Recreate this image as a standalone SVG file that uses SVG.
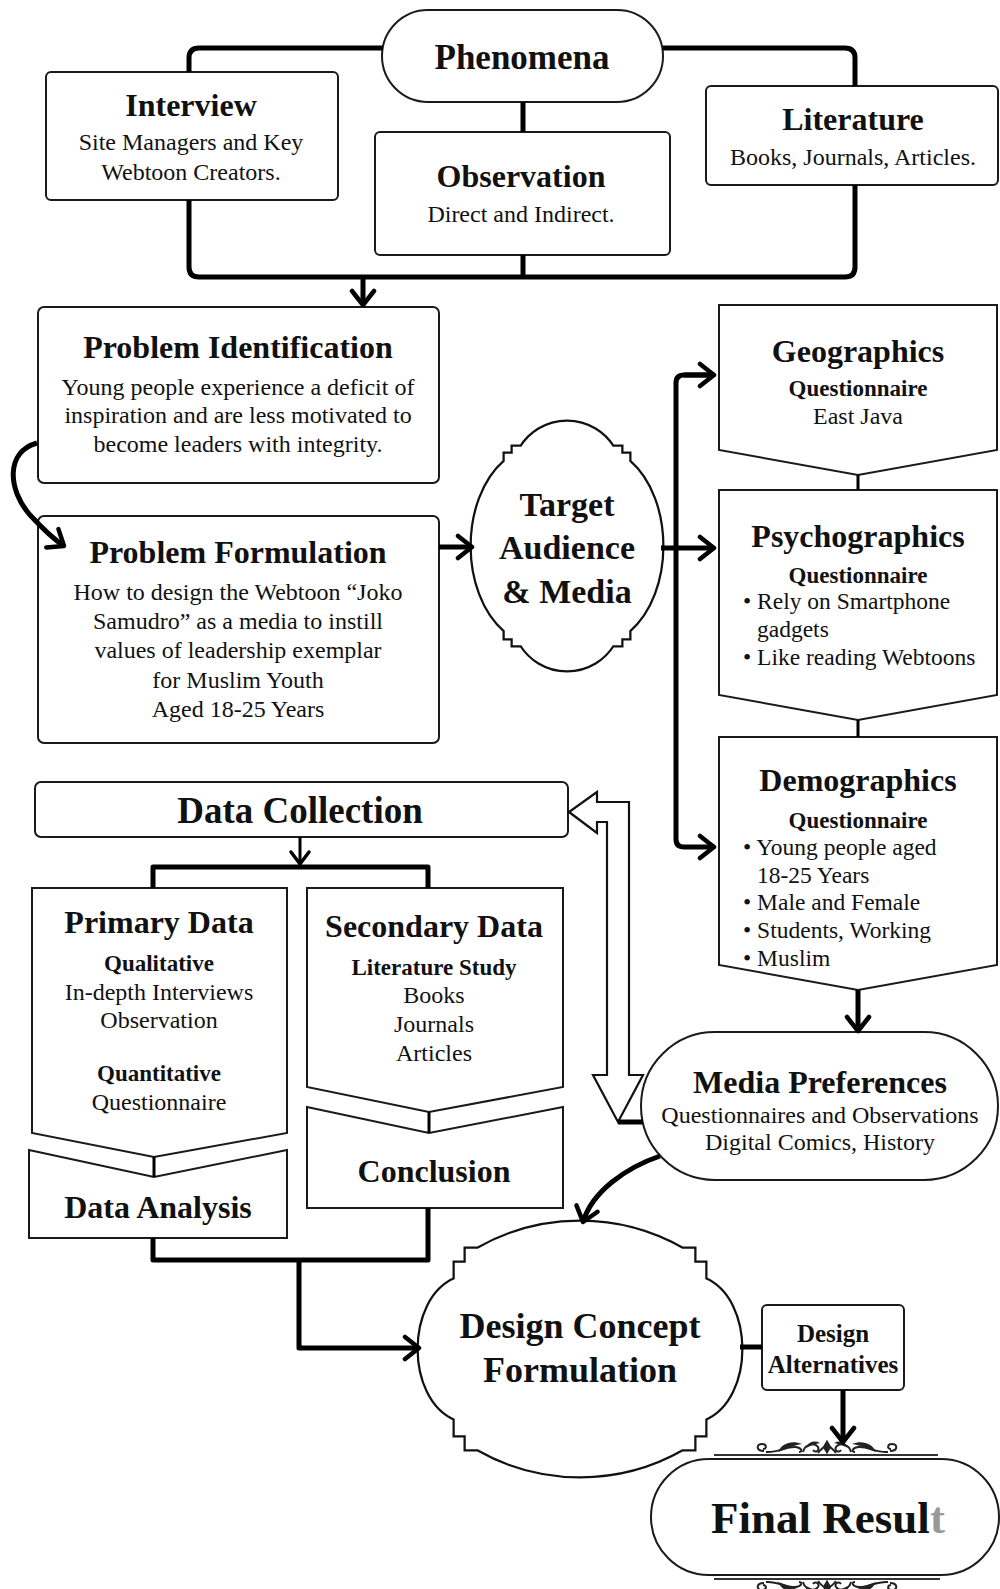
<svg xmlns="http://www.w3.org/2000/svg" width="1000" height="1589" viewBox="0 0 1000 1589">
<defs>
<style>
.box{fill:#fff;stroke:#1a1a1a;stroke-width:2}
.conn{fill:none;stroke:#000;stroke-width:5;stroke-linejoin:round}
.thin{fill:none;stroke:#000;stroke-width:3}
text{font-family:"Liberation Serif","Times New Roman",serif;fill:#111}
.t{font-weight:bold;font-size:32px;text-anchor:middle}
.s{font-weight:bold;font-size:23px;text-anchor:middle}
.b{font-size:24px;text-anchor:middle}
.bl{font-size:23.5px}
.orn{fill:none;stroke:#222;stroke-width:2}
.ornf{fill:#222;stroke:none}
.dbl1{fill:#fff;stroke:#111;stroke-width:7}
.dbl2{fill:#fff;stroke:#fff;stroke-width:2.5}
</style>
<marker id="ah" markerUnits="userSpaceOnUse" markerWidth="26" markerHeight="28" viewBox="0 0 26 28" refX="20" refY="14" orient="auto">
<path d="M6,3 L20,14 L6,25" fill="none" stroke="#000" stroke-width="4.5" stroke-linecap="round" stroke-linejoin="round"/>
</marker>
<marker id="ahs" markerUnits="userSpaceOnUse" markerWidth="22" markerHeight="24" viewBox="0 0 22 24" refX="17" refY="12" orient="auto">
<path d="M5,3 L17,12 L5,21" fill="none" stroke="#000" stroke-width="3.5" stroke-linecap="round" stroke-linejoin="round"/>
</marker>
<path id="tashape" d="M522,448 A53,53 0 0 1 612,448 H620 V455 H628 V462 C672,500 672,592 628,630 V637 H620 V644 H612 A53,53 0 0 1 522,644 H514 V637 H506 V630 C462,592 462,500 506,462 V455 H514 V448 Z"/>
<path id="dcshape" d="M478,1250 A206,206 0 0 1 682,1250 H693 V1264 H704 V1280 C752,1300 752,1398 704,1418 V1434 H693 V1448 H682 A206,206 0 0 1 478,1448 H467 V1434 H456 V1418 C408,1398 408,1300 456,1280 V1264 H467 V1250 Z"/>
<g id="orn">
<path class="orn" d="M764,1451 C756,1451 756,1444 762,1444 C767,1444 767,1449 763,1449"/>
<path class="orn" d="M766,1452 C778,1453 786,1446 796,1447 C802,1448 803,1452 799,1452"/>
<path class="ornf" d="M778,1452 C782,1443 792,1440 802,1444 C794,1445 787,1449 778,1452 Z"/>
<path class="orn" d="M803,1452 C805,1444 814,1442 818,1447 C820,1451 815,1453 813,1450"/>
<path class="ornf" d="M806,1448 C808,1442 814,1440 820,1443 C814,1444 810,1446 806,1448 Z"/>
<path class="orn" d="M818,1453 C822,1448 824,1446 827,1446"/>
<path class="ornf" d="M827,1440 L831,1447 L827,1454 L823,1447 Z"/>
</g>
</defs>

<g id="phenomena">
<rect class="box" x="382" y="10" width="281" height="92" rx="46"/>
<text class="t" x="522" y="69" style="font-size:35px">Phenomena</text>
</g>

<g id="interview">
<rect class="box" x="46" y="72" width="292" height="128" rx="5"/>
<text class="t" x="191" y="116">Interview</text>
<text class="b" x="191" y="150">Site Managers and Key</text>
<text class="b" x="191" y="180">Webtoon Creators.</text>
</g>

<g id="observation">
<rect class="box" x="375" y="132" width="295" height="123" rx="5"/>
<text class="t" x="521" y="187">Observation</text>
<text class="b" x="521" y="222">Direct and Indirect.</text>
</g>

<g id="literature">
<rect class="box" x="706" y="86" width="292" height="99" rx="5"/>
<text class="t" x="853" y="130">Literature</text>
<text class="b" x="853" y="165">Books, Journals, Articles.</text>
</g>

<g id="problem-identification">
<rect class="box" x="38" y="307" width="401" height="176" rx="6"/>
<text class="t" x="238" y="358">Problem Identification</text>
<text class="b" x="238" y="395">Young people experience a deficit of</text>
<text class="b" x="238" y="423">inspiration and are less motivated to</text>
<text class="b" x="238" y="452">become leaders with integrity.</text>
</g>

<g id="problem-formulation">
<rect class="box" x="38" y="516" width="401" height="227" rx="6"/>
<text class="t" x="238" y="563">Problem Formulation</text>
<text class="b" x="238" y="600">How to design the Webtoon “Joko</text>
<text class="b" x="238" y="629">Samudro” as a media to instill</text>
<text class="b" x="238" y="658">values of leadership exemplar</text>
<text class="b" x="238" y="688">for Muslim Youth</text>
<text class="b" x="238" y="717">Aged 18-25 Years</text>
</g>

<g id="target-audience">
<use href="#tashape" class="dbl1"/>
<use href="#tashape" class="dbl2"/>
<text class="t" x="567" y="516" style="font-size:34px">Target</text>
<text class="t" x="567" y="559" style="font-size:34px">Audience</text>
<text class="t" x="567" y="603" style="font-size:34px">&amp; Media</text>
</g>

<g id="geographics">
<path class="box" d="M719,305 H997 V450 L858,475 L719,450 Z"/>
<text class="t" x="858" y="362">Geographics</text>
<text class="s" x="858" y="396">Questionnaire</text>
<text class="b" x="858" y="424">East Java</text>
</g>

<g id="psychographics">
<path class="box" d="M719,490 H997 V695 L858,720 L719,695 Z"/>
<text class="t" x="858" y="547">Psychographics</text>
<text class="s" x="858" y="583">Questionnaire</text>
<text class="bl" x="743" y="609">• Rely on Smartphone</text>
<text class="bl" x="757" y="637">gadgets</text>
<text class="bl" x="743" y="665">• Like reading Webtoons</text>
</g>

<g id="demographics">
<path class="box" d="M719,737 H997 V965 L858,990 L719,965 Z"/>
<text class="t" x="858" y="791">Demographics</text>
<text class="s" x="858" y="828">Questionnaire</text>
<text class="bl" x="743" y="855">• Young people aged</text>
<text class="bl" x="757" y="883">18-25 Years</text>
<text class="bl" x="743" y="910">• Male and Female</text>
<text class="bl" x="743" y="938">• Students, Working</text>
<text class="bl" x="743" y="966">• Muslim</text>
</g>

<g id="data-collection">
<rect class="box" x="35" y="782" width="533" height="55" rx="6"/>
<text class="t" x="300" y="823" style="font-size:37px">Data Collection</text>
</g>

<g id="primary-data">
<path class="box" d="M32,888 H287 V1133 L154,1157 L32,1133 Z"/>
<text class="t" x="159" y="933">Primary Data</text>
<text class="s" x="159" y="971">Qualitative</text>
<text class="b" x="159" y="1000">In-depth Interviews</text>
<text class="b" x="159" y="1028">Observation</text>
<text class="s" x="159" y="1081">Quantitative</text>
<text class="b" x="159" y="1110">Questionnaire</text>
</g>

<g id="data-analysis">
<path class="box" d="M29,1150 L154,1177 L287,1150 V1238 H29 Z"/>
<text class="t" x="158" y="1218">Data Analysis</text>
</g>

<g id="secondary-data">
<path class="box" d="M307,888 H563 V1087 L429,1112 L307,1087 Z"/>
<text class="t" x="434" y="937">Secondary Data</text>
<text class="s" x="434" y="975">Literature Study</text>
<text class="b" x="434" y="1003">Books</text>
<text class="b" x="434" y="1032">Journals</text>
<text class="b" x="434" y="1061">Articles</text>
</g>

<g id="conclusion">
<path class="box" d="M307,1107 L429,1133 L563,1107 V1208 H307 Z"/>
<text class="t" x="434" y="1182">Conclusion</text>
</g>

<g id="media-preferences">
<rect class="box" x="641" y="1032" width="357" height="148" rx="74"/>
<text class="t" x="820" y="1093">Media Preferences</text>
<text class="b" x="820" y="1123">Questionnaires and Observations</text>
<text class="b" x="820" y="1150">Digital Comics, History</text>
</g>

<g id="design-concept">
<use href="#dcshape" class="dbl1"/>
<use href="#dcshape" class="dbl2"/>
<text class="t" x="580" y="1338" style="font-size:36px">Design Concept</text>
<text class="t" x="580" y="1382" style="font-size:36px">Formulation</text>
</g>

<g id="design-alternatives">
<rect class="box" x="762" y="1305" width="142" height="85" rx="5"/>
<text class="t" x="833" y="1342" style="font-size:25px">Design</text>
<text class="t" x="833" y="1373" style="font-size:25px">Alternatives</text>
</g>

<g id="final-result">
<line x1="714" y1="1455" x2="938" y2="1455" stroke="#333" stroke-width="2"/>
<use href="#orn"/>
<use href="#orn" transform="translate(1654,0) scale(-1,1)"/>
<rect class="box" x="651" y="1459" width="348" height="116" rx="58"/>
<text class="t" x="828" y="1533" style="font-size:45px">Final Resul<tspan fill="#999">t</tspan></text>
<line x1="714" y1="1579" x2="940" y2="1579" stroke="#333" stroke-width="2"/>
<g transform="translate(0,3034) scale(1,-1)">
<use href="#orn"/>
<use href="#orn" transform="translate(1654,0) scale(-1,1)"/>
</g>
</g>

<g id="connectors">
<path class="conn" d="M189,72 V58 Q189,48 199,48 H383"/>
<path class="conn" d="M663,48 H845 Q855,48 855,58 V86"/>
<path class="conn" d="M189,200 V267 Q189,277 199,277 H845 Q855,277 855,267 V185"/>
<path class="conn" d="M523,102 V132"/>
<path class="conn" d="M523,255 V277"/>
<path class="conn" d="M363,277 V305" marker-end="url(#ah)"/>
<path class="conn" d="M37,443 C5,452 8,490 30,515 C42,528 52,538 64,546" marker-end="url(#ah)"/>
<path class="conn" d="M439,547 H472" marker-end="url(#ah)"/>
<path class="conn" d="M661,548 H714" marker-end="url(#ah)"/>
<path class="conn" d="M714,375 H684 Q676,375 676,383 V839 Q676,847 684,847 H714" marker-end="url(#ah)"/>
<path class="conn" d="M684,375 H714" marker-end="url(#ah)"/>
<path class="thin" d="M858,475 V490"/>
<path class="thin" d="M858,720 V737"/>
<path class="conn" d="M858,990 V1031" marker-end="url(#ah)"/>
<path class="thin" d="M300,837 V864" marker-end="url(#ahs)"/>
<path class="conn" d="M153,888 V867 H428 V888"/>
<path class="thin" d="M154,1157 V1177"/>
<path class="thin" d="M429,1112 V1133"/>
<path class="conn" d="M153,1238 V1260 H428 V1208"/>
<path class="conn" d="M299,1260 V1348 H419" marker-end="url(#ah)"/>
<path class="conn" d="M660,1156 C625,1168 592,1192 583,1222" marker-end="url(#ah)"/>
<path class="conn" d="M740,1347 H762"/>
<path class="conn" d="M843,1390 V1442" marker-end="url(#ah)"/>
<polygon fill="#fff" stroke="#111" stroke-width="2.2" stroke-linejoin="miter" points="569,812 597,833 597,822 607,822 607,1075 593,1075 618,1122 643,1075 629,1075 629,802 597,802 597,792"/>
<path class="conn" d="M618,1122 H643"/>
</g>
</svg>
